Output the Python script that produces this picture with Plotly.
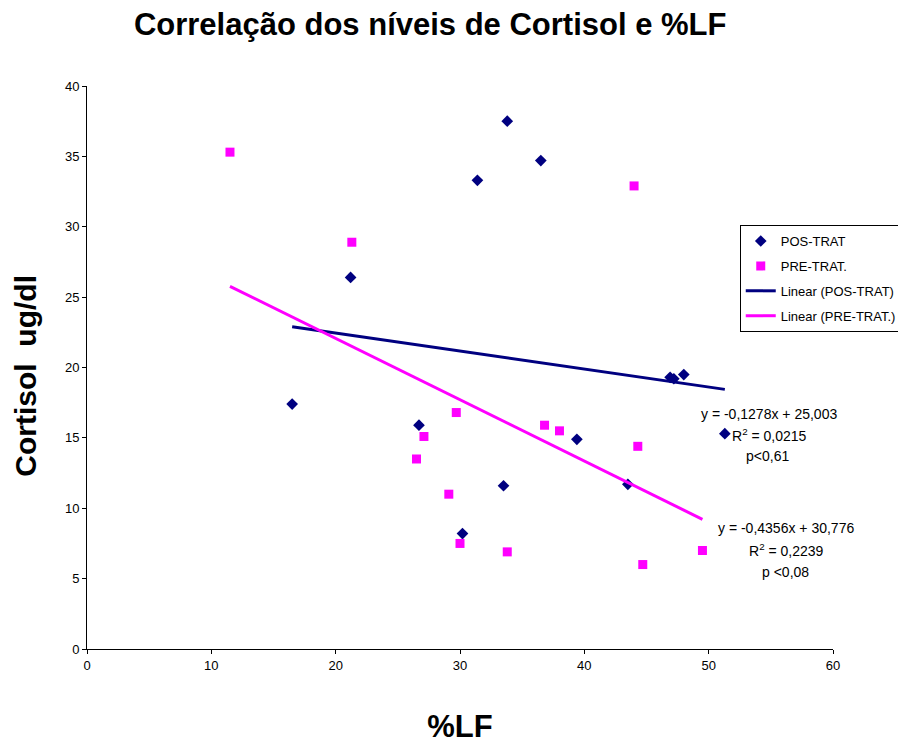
import plotly.graph_objects as go

# ---- data ----
pos_x = [33.8, 36.5, 31.4, 21.2, 16.5, 26.7, 39.4, 33.5, 30.2, 43.5, 46.9, 47.2, 48.0, 51.3]
pos_y = [37.5, 34.7, 33.3, 26.4, 17.4, 15.9, 14.9, 11.6, 8.2, 11.7, 19.3, 19.2, 19.5, 15.3]

pre_x = [11.5, 21.3, 44.0, 29.7, 27.1, 26.5, 29.1, 30.0, 33.8, 36.8, 38.0, 44.3, 44.7, 49.5]
pre_y = [35.3, 28.9, 32.9, 16.8, 15.1, 13.5, 11.0, 7.5, 6.9, 15.9, 15.5, 14.4, 6.0, 7.0]

pos_slope, pos_intercept = -0.1278, 25.003
pre_slope, pre_intercept = -0.4356, 30.776

pos_label = ["y = -0,1278x + 25,003", "R<sup>2</sup> = 0,0215", "p<0,61"]
pre_label = ["y = -0,4356x + 30,776", "R<sup>2</sup> = 0,2239", "p <0,08"]

x_ticks = [0, 10, 20, 30, 40, 50, 60]
y_ticks = [0, 5, 10, 15, 20, 25, 30, 35, 40]

NAVY = "#000080"
MAGENTA = "#FF00FF"
FONT = "Liberation Sans"

fig = go.Figure()

fig.add_trace(go.Scatter(
    x=pos_x, y=pos_y, mode="markers", name="POS-TRAT", legendgroup="a",
    marker=dict(symbol="diamond", size=9, color=NAVY),
))
fig.add_trace(go.Scatter(
    x=pre_x, y=pre_y, mode="markers", name="PRE-TRAT.", legendgroup="b",
    marker=dict(symbol="square", size=9, color=MAGENTA),
))

pos_lx = [min(pos_x), max(pos_x)]
pre_lx = [min(pre_x), max(pre_x)]
fig.add_trace(go.Scatter(
    x=pos_lx, y=[pos_slope * v + pos_intercept for v in pos_lx], mode="lines",
    name="Linear (POS-TRAT)", legendgroup="c", line=dict(color=NAVY, width=3),
))
fig.add_trace(go.Scatter(
    x=pre_lx, y=[pre_slope * v + pre_intercept for v in pre_lx], mode="lines",
    name="Linear (PRE-TRAT.)", legendgroup="d", line=dict(color=MAGENTA, width=3),
))

ann_pos = [(54.85, 16.70), (54.9, 15.20), (54.7, 13.71)]
ann_pre = [(56.22, 8.60), (56.22, 7.03), (56.18, 5.47)]
for txt, (ax, ay) in zip(pos_label, ann_pos):
    fig.add_annotation(x=ax, y=ay, xref="x", yref="y", text=txt, showarrow=False,
                       font=dict(family=FONT, size=14, color="black"),
                       xanchor="center", yanchor="middle")
for txt, (ax, ay) in zip(pre_label, ann_pre):
    fig.add_annotation(x=ax, y=ay, xref="x", yref="y", text=txt, showarrow=False,
                       font=dict(family=FONT, size=14, color="black"),
                       xanchor="center", yanchor="middle")

fig.update_layout(
    width=906, height=742,
    margin=dict(l=79, r=81, t=78, b=101, autoexpand=False),
    paper_bgcolor="white", plot_bgcolor="white",
    font=dict(family=FONT, color="black"),
    title=dict(text="<b>Correlação dos níveis de Cortisol e %LF</b>",
               x=0.466, xanchor="center", y=0.978, yanchor="middle",
               font=dict(family=FONT, size=31, color="black")),
    showlegend=True,
    legend=dict(x=0.875, y=0.753, xanchor="left", yanchor="top",
                bordercolor="black", borderwidth=1, bgcolor="white",
                font=dict(family=FONT, size=13, color="black"),
                tracegroupgap=5, itemwidth=30),
)

fig.update_xaxes(
    range=[0, 60], tickvals=x_ticks, ticktext=[str(v) for v in x_ticks],
    showgrid=False, zeroline=False, showline=True, linecolor="black", linewidth=1,
    ticks="outside", ticklen=4, tickcolor="black", automargin=False,
    tickfont=dict(family=FONT, size=13, color="black"),
    title=dict(text="<b>%LF</b>", font=dict(family=FONT, size=31, color="black"), standoff=43),
)
fig.update_yaxes(
    range=[0, 40], tickvals=y_ticks, ticktext=[str(v) for v in y_ticks],
    showgrid=False, zeroline=False, showline=True, linecolor="black", linewidth=1,
    ticks="outside", ticklen=4, tickcolor="black", automargin=False,
    tickfont=dict(family=FONT, size=13, color="black"),
    title=dict(text="<b>Cortisol  ug/dl&nbsp;&nbsp;</b>", font=dict(family=FONT, size=30, color="black"), standoff=19),
)

fig.write_html("out.html")
